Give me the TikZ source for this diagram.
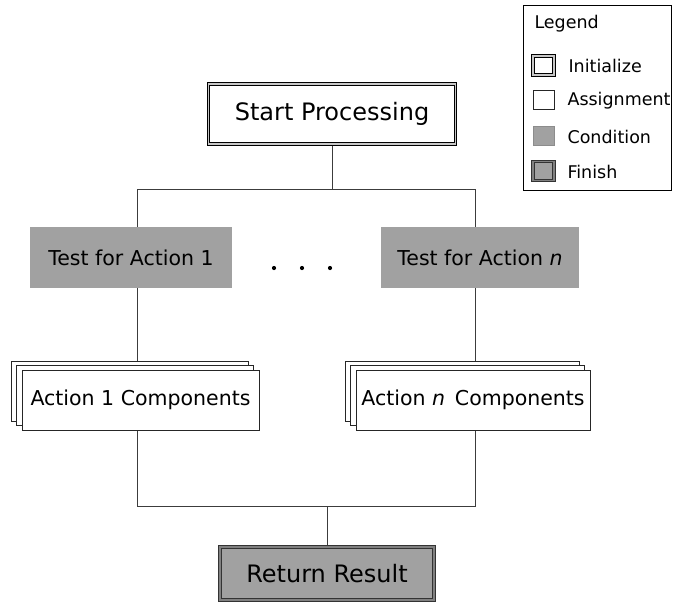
\documentclass[tikz,border=0pt]{standalone}
\usepackage{fontspec}
\setmainfont{DejaVu Sans}
\usetikzlibrary{positioning, shadows, backgrounds}

\definecolor{condgray}{RGB}{161,161,161}
\definecolor{linegray}{RGB}{60,60,60}

\tikzset{
    % box kinds, as listed in the legend
    initbox/.style={draw=black, double=black!22, double distance=1.5pt, line width=0.9pt, fill=white},
    assignbox/.style={draw=black!85, line width=0.9pt, fill=white},
    condbox/.style={fill=condgray, draw=none},
    finishbox/.style={draw=black!80, double=black!50, double distance=1.5pt, line width=0.9pt, fill=condgray},
    stackbox/.style={assignbox, double copy shadow={shadow xshift=-5.5pt, shadow yshift=4.2pt, fill=white, draw=black!85, line width=0.9pt}},
    keybox/.style={minimum width=21pt, minimum height=19pt},
    link/.style={draw=linegray, line width=1pt},
    bigtext/.style={font=\fontsize{24}{28}\selectfont},
    midtext/.style={font=\fontsize{20.5}{24}\selectfont},
    smalltext/.style={font=\fontsize{17.5}{21}\selectfont}
}

\begin{document}
\begin{tikzpicture}[x=1pt, y=-1pt]

    \useasboundingbox (0,0) rectangle (673,606);

    % ==========================================
    % Main flow
    % ==========================================
    \node[initbox, bigtext, minimum width=247pt, minimum height=60pt] (start) at (332,114) {Start Processing};

    \node[condbox, midtext, minimum width=202pt, minimum height=61pt] (test1) at (131,257.5) {Test for Action 1};
    \node[condbox, midtext, minimum width=198pt, minimum height=61pt] (testn) at (480,257.5) {Test for Action \textit{n}};

    % dots between the two tests
    \foreach \x in {274,302,330}
        \fill[black] (\x,268) circle (2.1pt);

    \node[stackbox, midtext, minimum width=237pt, minimum height=60pt] (comp1) at (140.5,400) {Action 1 Components};
    \node[stackbox, midtext, minimum width=234pt, minimum height=60pt] (compn) at (473,400) {Action \textit{n}\, Components};

    \node[finishbox, bigtext, minimum width=214pt, minimum height=53pt] (result) at (327,573.5) {Return Result};

    % branch points
    \coordinate (topL) at (137,189);
    \coordinate (topR) at (475,189);
    \coordinate (botL) at (137,506);
    \coordinate (botR) at (475,506);

    % Connectors (kept behind the boxes)
    \begin{scope}[on background layer]
        \draw[link] (start.south) -- (start.south |- topL);
        \draw[link] (test1.north -| topL) |- (topR) -- (testn.north -| topR);
        \draw[link] (test1.south -| topL) -- (comp1.north -| topL);
        \draw[link] (testn.south -| topR) -- (compn.north -| topR);
        \draw[link] (comp1.south -| botL) |- (botR) -- (compn.south -| botR);
        \draw[link] (result.north) -- (result.north |- botL);
    \end{scope}

    % ==========================================
    % Legend
    % ==========================================
    \node[draw=black, line width=1pt, anchor=north west, minimum width=148pt, minimum height=185pt] (legend) at (523,5) {};
    \node[smalltext, anchor=west] (legtitle) at (531,24) {Legend};

    \node[keybox, initbox, line width=1pt, double distance=1.2pt] (keyinit) at (543.5,65.5) {};
    \node[keybox, assignbox, line width=0.7pt] (keyassign) at (543.5,100) {};
    \node[keybox, condbox, draw=black!45, line width=0.5pt] (keycond) at (543.5,136) {};
    \node[keybox, finishbox, line width=1pt, double distance=1.2pt] (keyfinish) at (543.5,171) {};

    \node[smalltext, anchor=west] (txtinit) at (565,66) {Initialize};
    \node[smalltext, anchor=west] (txtassign) at (564,101) {Assignment};
    \node[smalltext, anchor=west] (txtcond) at (564,137) {Condition};
    \node[smalltext, anchor=west] (txtfinish) at (564,172) {Finish};

\end{tikzpicture}
\end{document}
